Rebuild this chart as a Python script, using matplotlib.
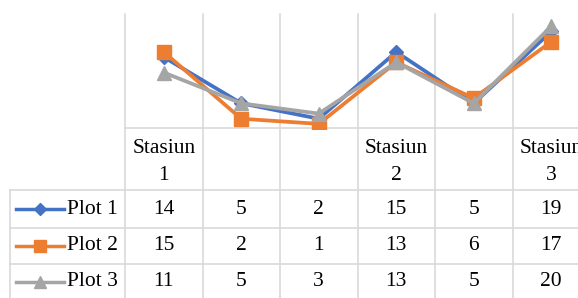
import matplotlib.pyplot as plt

# Data
header   = ['Stasiun\n1', '', '', 'Stasiun\n2', '', 'Stasiun\n3']
series   = ['Plot 1', 'Plot 2', 'Plot 3']
plot1    = [14, 5, 2, 15, 5, 19]
plot2    = [15, 2, 1, 13, 6, 17]
plot3    = [11, 5, 3, 13, 5, 20]
values   = [plot1, plot2, plot3]

colors  = ['#4472C4', '#ED7D31', '#A5A5A5']
markers = ['D', 's', '^']
msizes  = [7, 10, 10]
grid_c  = '#d9d9d9'

plt.rcParams['font.family'] = ['Liberation Serif', 'DejaVu Serif']

W, H = 578, 298
fig = plt.figure(figsize=(W / 100, H / 100), dpi=100)

# pixel layout of the Excel-like chart + data table
col_w  = 77.5
x0     = 125          # left edge of first data column
ncol   = len(header)
plot_top, plot_bot = 14, 129
row_y  = [128, 190, 228, 264, 300]
leg_x0 = 10

# table / grid layer in pixel coordinates
tab = fig.add_axes([0, 0, 1, 1])
tab.set_xlim(0, W)
tab.set_ylim(H, 0)
tab.axis('off')

right = x0 + col_w * ncol
for i in range(ncol + 1):
    xv = x0 + col_w * i
    tab.plot([xv, xv], [plot_top, row_y[-1]], color=grid_c, lw=1.2, zorder=1)
tab.plot([leg_x0, leg_x0], [row_y[1], row_y[-1]], color=grid_c, lw=1.2, zorder=1)
tab.plot([x0, right], [row_y[0], row_y[0]], color=grid_c, lw=1.2, zorder=1)
for yh in row_y[1:]:
    tab.plot([leg_x0, right], [yh, yh], color=grid_c, lw=1.2, zorder=1)

fs = 15.5
for i, h in enumerate(header):
    if h:
        tab.text(x0 + col_w * (i + 0.5), (row_y[0] + row_y[1]) / 2 + 3, h,
                 ha='center', va='center', fontsize=fs, linespacing=1.6)

for r, (name, vals) in enumerate(zip(series, values)):
    yc = (row_y[r + 1] + row_y[r + 2]) / 2
    tab.plot([16, 64], [yc, yc], color=colors[r], lw=2.5, zorder=3)
    tab.plot([40], [yc], marker=markers[r], color=colors[r],
             markersize=msizes[r] * 0.85, zorder=3)
    tab.text(67, yc, name, ha='left', va='center', fontsize=fs)
    for i, v in enumerate(vals):
        tab.text(x0 + col_w * (i + 0.5), yc, str(v),
                 ha='center', va='center', fontsize=fs)

# line plot area
ax = fig.add_axes([x0 / W, 1 - plot_bot / H, col_w * ncol / W,
                   (plot_bot - plot_top) / H])
ax.patch.set_alpha(0)
xs = list(range(ncol))
for r, vals in enumerate(values):
    ax.plot(xs, vals, color=colors[r], lw=2.7, marker=markers[r],
            markersize=msizes[r], zorder=3 + r)
ax.set_xlim(-0.5, ncol - 0.5)
ax.set_ylim(0, 22.4)
ax.axis('off')

fig.savefig('out.png', dpi=100)
